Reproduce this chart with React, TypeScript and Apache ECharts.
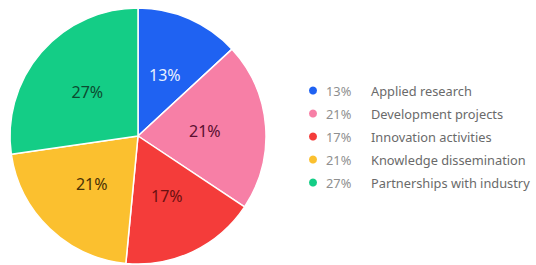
import React, { useEffect, useRef } from "react";
import * as echarts from "echarts";

const categories = [
  "Applied research",
  "Development projects",
  "Innovation activities",
  "Knowledge dissemination",
  "Partnerships with industry",
];
const values = [13, 21, 17, 21, 27];
const colors = ["#1f62f2", "#f77fa6", "#f43c3a", "#fbc02f", "#14cd86"];
const labelColors = ["#e8f0ff", "#5a1030", "#6a1010", "#4a3206", "#0c4a30"];

export default function App() {
  const ref = useRef<HTMLDivElement>(null);
  useEffect(() => {
    document.body.style.margin = "0";
    if (!ref.current) return;
    const chart = echarts.init(ref.current, null, { renderer: "svg" });
    const data = categories.map((name, i) => ({
      name,
      value: values[i],
      itemStyle: { color: colors[i] },
      label: { color: labelColors[i] },
    }));
    chart.setOption({
      animation: false,
      backgroundColor: "#ffffff",
      legend: {
        orient: "vertical",
        left: 302,
        top: 79,
        icon: "circle",
        itemWidth: 10,
        itemHeight: 10,
        itemGap: 10,
        selectedMode: false,
        data: categories,
        formatter: (name: string) => {
          const i = categories.indexOf(name);
          return `{p|${values[i]}%}{n|${name}}`;
        },
        textStyle: {
          rich: {
            p: {
              width: 45,
              padding: [0, 0, 0, 3],
              fontSize: 12.8,
              lineHeight: 14,
              color: "#8f8f8f",
              fontFamily: "Noto Sans",
            },
            n: {
              fontSize: 12.8,
              lineHeight: 14,
              color: "#6a6a6a",
              fontFamily: "Noto Sans",
            },
          },
        },
      },
      series: [
        {
          type: "pie",
          center: [138, 136],
          radius: [0, 128],
          startAngle: 90,
          clockwise: true,
          data,
          itemStyle: { borderColor: "#ffffff", borderWidth: 1.5 },
          label: {
            show: true,
            position: "inside",
            formatter: "{c}%",
            fontSize: 16,
            fontFamily: "Noto Sans",
          },
          labelLine: { show: false },
          emphasis: { disabled: true },
        },
      ],
    });
    return () => chart.dispose();
  }, []);
  return <div ref={ref} style={{ width: 536, height: 265 }} />;
}
